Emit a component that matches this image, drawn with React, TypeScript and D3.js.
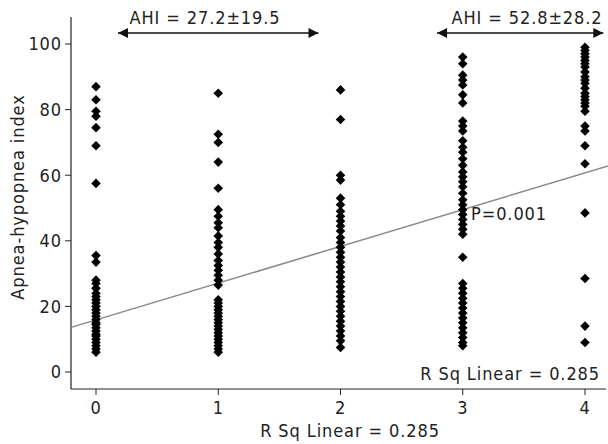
import React, { useEffect, useRef } from 'react';
import * as d3 from 'd3';

// AHI values per group
const group0 = [87, 83, 79.5, 78, 74.5, 69, 57.5, 35.5, 33.5, 28, 27, 25.5, 24, 23, 22, 21, 20, 19, 18, 17, 16, 15, 14.5, 13.5, 12.5, 11.5, 11, 10, 9, 8, 7, 6];
const group1 = [85, 72.5, 70, 64, 56, 49.5, 47.5, 45.5, 44, 41.5, 39.5, 38, 36, 34, 32.5, 31, 29.5, 28, 26.5, 22, 21, 20, 19, 18, 17, 16, 15, 14, 13, 12, 11, 10, 9, 8, 7, 6];
const group2 = [86, 77, 60, 58.5, 53, 51, 49, 47.5, 46, 44.5, 43, 41, 39.5, 38, 36.5, 35, 33.5, 32, 30.5, 29, 27.5, 26, 24.5, 23, 21.5, 20, 18.5, 17, 15.5, 14, 12.5, 11, 9.5, 7.5];
const group3 = [96, 94, 90.5, 89, 87.5, 84.5, 82, 76.5, 75, 73.5, 70.5, 68.5, 67, 65, 63, 61, 59.5, 58, 56.5, 54.5, 52.5, 51, 49.5, 48, 46.5, 45, 43.5, 42, 35, 27, 25.5, 24, 22.5, 21, 19.5, 18, 16.5, 15, 13.5, 12, 10.5, 9, 8];
const group4 = [99, 98, 97, 96, 95, 94, 93, 91.5, 90, 89, 88, 86.5, 85, 84, 83, 82, 81, 79.5, 75, 73.5, 69, 63.5, 48.5, 28.5, 14, 9];
const groups = [group0, group1, group2, group3, group4];

const xTicks = [0, 1, 2, 3, 4];
const yTicks = [0, 20, 40, 60, 80, 100];

// fit line
const intercept = 15.9;
const slope = 11.2;

const xTitle = 'R Sq Linear = 0.285';
const yTitle = 'Apnea-hypopnea index';
const ahiLow = 'AHI = 27.2±19.5';
const ahiHigh = 'AHI = 52.8±28.2';
const pText = 'P=0.001';
const rsqText = 'R Sq Linear = 0.285';

const FONT = '"DejaVu Sans Condensed", "Liberation Sans", sans-serif';

export default function App() {
  const ref = useRef<SVGSVGElement>(null);

  useEffect(() => {
    const svg = d3.select(ref.current);
    svg.selectAll('*').remove();

    const x = d3.scaleLinear().domain([0, 4]).range([96, 585]);
    const y = d3.scaleLinear().domain([0, 100]).range([372, 44]);
    const left = 71, bottom = 389, top = 17, right = 606;

    const txt = (sel: any) => sel.attr('font-family', FONT).attr('font-size', 18).attr('letter-spacing', 0.9).attr('fill', '#222');

    // axes lines
    svg.append('line').attr('x1', left).attr('x2', left).attr('y1', top).attr('y2', bottom).attr('stroke', '#222').attr('stroke-width', 1.2);
    svg.append('line').attr('x1', left).attr('x2', right).attr('y1', bottom).attr('y2', bottom).attr('stroke', '#222').attr('stroke-width', 1.2);

    // y ticks
    const yt = svg.append('g');
    yTicks.forEach(t => {
      yt.append('line').attr('x1', left - 6).attr('x2', left).attr('y1', y(t)).attr('y2', y(t)).attr('stroke', '#222');
      yt.append('text').attr('x', left - 9).attr('y', y(t)).attr('dy', '0.35em').attr('text-anchor', 'end').call(txt).text(t);
    });
    // x ticks
    const xt = svg.append('g');
    xTicks.forEach(t => {
      xt.append('line').attr('x1', x(t)).attr('x2', x(t)).attr('y1', bottom).attr('y2', bottom + 6).attr('stroke', '#222');
      xt.append('text').attr('x', x(t)).attr('y', bottom + 25).attr('text-anchor', 'middle').call(txt).text(t);
    });

    // titles
    svg.append('text').attr('x', 350).attr('y', 437).attr('text-anchor', 'middle').call(txt).text(xTitle);
    svg.append('text').attr('transform', 'translate(24,197) rotate(-90)').attr('text-anchor', 'middle').call(txt).text(yTitle);

    // regression line
    const x0 = x.invert(left), x1 = x.invert(608);
    svg.append('line')
      .attr('x1', x(x0)).attr('y1', y(intercept + slope * x0))
      .attr('x2', x(x1)).attr('y2', y(intercept + slope * x1))
      .attr('stroke', '#8a8a8a').attr('stroke-width', 1.5);

    // points
    const diamond = d3.symbol().type(d3.symbolSquare).size(46)();
    groups.forEach((vals, gi) => {
      svg.append('g').selectAll('path').data(vals).enter().append('path')
        .attr('d', diamond)
        .attr('transform', d => `translate(${x(gi)},${y(d)}) rotate(45)`)
        .attr('fill', '#000');
    });

    // annotations
    svg.append('text').attr('x', 463 + 8).attr('y', 220).call(txt).text(pText);
    svg.append('text').attr('x', 600).attr('y', 380).attr('text-anchor', 'end').call(txt).text(rsqText);

    // arrows
    const defs = svg.append('defs');
    defs.append('marker').attr('id', 'ah').attr('viewBox', '0 0 10 10').attr('refX', 10).attr('refY', 5)
      .attr('markerWidth', 14).attr('markerHeight', 10).attr('markerUnits', 'userSpaceOnUse').attr('orient', 'auto-start-reverse')
      .append('path').attr('d', 'M0,0 L10,5 L0,10 Z').attr('fill', '#111');
    const arrow = (xa: number, xb: number) => {
      svg.append('line').attr('x1', xa).attr('x2', xb).attr('y1', 33).attr('y2', 33)
        .attr('stroke', '#111').attr('stroke-width', 1.3)
        .attr('marker-start', 'url(#ah)').attr('marker-end', 'url(#ah)');
    };
    arrow(x(0.18), x(1.82));
    svg.append('text').attr('x', 205).attr('y', 24).attr('text-anchor', 'middle').call(txt).text(ahiLow);
    arrow(x(2.79), x(4.15));
    svg.append('text').attr('x', 527).attr('y', 24).attr('text-anchor', 'middle').call(txt).text(ahiHigh);
  }, []);

  return (
    <div style={{ position: 'fixed', left: 0, top: 0 }}>
      <svg ref={ref} width={608} height={444} style={{ display: 'block', background: '#fff' }} />
    </div>
  );
}
